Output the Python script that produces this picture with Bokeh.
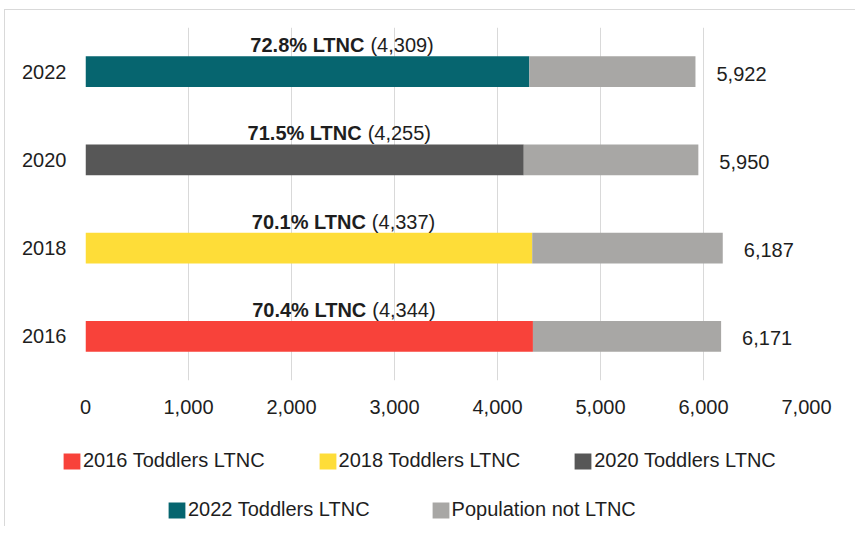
from bokeh.plotting import figure
from bokeh.layouts import column
from bokeh.models import (ColumnDataSource, FactorRange, Range1d, FixedTicker,
                          NumeralTickFormatter, Legend, LegendItem)
from bokeh.transform import dodge
from bokeh.core.properties import value
from bokeh.embed import file_html
from bokeh.resources import INLINE

# ---- data ----
years = ["2016", "2018", "2020", "2022"]
ltnc = [4344, 4337, 4255, 4309]
totals = [6171, 6187, 5950, 5922]
pct_labels = ["70.4% LTNC", "70.1% LTNC", "71.5% LTNC", "72.8% LTNC"]
count_labels = ["(4,344)", "(4,337)", "(4,255)", "(4,309)"]
total_labels = ["6,171", "6,187", "5,950", "5,922"]
series_names = ["2016 Toddlers LTNC", "2018 Toddlers LTNC", "2020 Toddlers LTNC",
                "2022 Toddlers LTNC"]
other_name = "Population not LTNC"
x_ticks = [0, 1000, 2000, 3000, 4000, 5000, 6000, 7000]

colors = ["#F8423A", "#FEDD38", "#575757", "#06656F"]
gray = "#A8A7A5"
FONT = "Liberation Sans"
TXT = "#1E1E1E"

p = figure(width=850, height=420, output_backend="svg", toolbar_location=None,
           y_range=FactorRange(factors=years, range_padding=0),
           x_range=Range1d(0, 7000),
           min_border_left=80, min_border_right=49, min_border_top=17,
           min_border_bottom=50)
p.frame_align = False
p.outline_line_color = None
p.background_fill_color = "white"
p.border_fill_color = "white"

p.xgrid.grid_line_color = "#D9D9D9"
p.xgrid.grid_line_width = 1
p.ygrid.grid_line_color = None

p.xaxis.ticker = FixedTicker(ticks=x_ticks)
p.xaxis.formatter = NumeralTickFormatter(format="0,0")
for ax in (p.xaxis[0], p.yaxis[0]):
    ax.axis_line_color = None
    ax.major_tick_line_color = None
    ax.minor_tick_line_color = None
    ax.major_tick_in = 0
    ax.major_tick_out = 0
    ax.major_label_text_font = FONT
    ax.major_label_text_font_size = "20px"
    ax.major_label_text_color = TXT
p.xaxis.major_label_standoff = 19
p.yaxis.major_label_standoff = 19

BAR_H = 0.35

for i, yr in enumerate(years):
    src = ColumnDataSource(dict(y=[yr], left=[0], right=[ltnc[i]]))
    p.hbar(y="y", left="left", right="right", height=BAR_H, source=src,
           fill_color=colors[i], line_color=None)

gsrc = ColumnDataSource(dict(y=years, left=ltnc, right=totals))
p.hbar(y="y", left="left", right="right", height=BAR_H, source=gsrc,
       fill_color=gray, line_color=None)

lsrc = ColumnDataSource(dict(
    y=years,
    mid=[v / 2 for v in ltnc],
    tot=totals,
    pct=pct_labels,
    cnt=count_labels,
    totl=total_labels,
))
p.text(x="mid", y=dodge("y", BAR_H / 2, range=p.y_range), text="pct", source=lsrc,
       text_font=value(FONT), text_font_size="20px", text_font_style="bold",
       text_color=TXT, text_align="center", text_baseline="alphabetic", y_offset=-11)
p.text(x="mid", y=dodge("y", BAR_H / 2, range=p.y_range), text="cnt", source=lsrc,
       text_font=value(FONT), text_font_size="20px",
       text_color=TXT, text_align="left", text_baseline="alphabetic",
       x_offset=63, y_offset=-11)
p.text(x="tot", y="y", text="totl", source=lsrc,
       text_font=value(FONT), text_font_size="20px",
       text_color=TXT, text_align="left", text_baseline="middle", x_offset=21,
       y_offset=2)

# ---- legend figure ----
q = figure(width=850, height=96, output_backend="svg", toolbar_location=None,
           x_range=Range1d(0, 1), y_range=Range1d(0, 1),
           x_axis_location=None, y_axis_location=None,
           min_border=0, min_border_left=0, min_border_right=0,
           min_border_top=0, min_border_bottom=0)
q.frame_align = False
q.grid.visible = False
q.outline_line_color = None
q.background_fill_color = "white"
q.border_fill_color = "white"

all_names = series_names + [other_name]
all_colors = colors + [gray]
leg_rends = []
for nm, c in zip(all_names, all_colors):
    # zero-size swatch carrier for the legend
    r = q.hbar(y=[0], left=[0], right=[0], height=0, fill_color=c, line_color=None)
    leg_rends.append(r)

def make_legend(items, loc, spacing):
    lg = Legend(items=items, orientation="horizontal", location=loc)
    lg.label_text_font = FONT
    lg.label_text_font_size = "20px"
    lg.label_text_color = TXT
    lg.glyph_width = 21
    lg.glyph_height = 20
    lg.label_standoff = 1
    lg.spacing = spacing
    lg.padding = 0
    lg.margin = 0
    lg.border_line_color = None
    lg.background_fill_alpha = 0
    return lg

items1 = [LegendItem(label=all_names[i], renderers=[leg_rends[i]]) for i in range(3)]
items2 = [LegendItem(label=all_names[i], renderers=[leg_rends[i]]) for i in (3, 4)]
q.add_layout(make_legend(items1, (56, 54), 52), "center")
q.add_layout(make_legend(items2, (161, 5), 60), "center")

layout = column(p, q, spacing=0,
                styles={"margin-left": "4px", "margin-top": "9px",
                        "border-left": "1px solid #d9d9d9",
                        "border-top": "1px solid #d9d9d9"})

open("out.html", "w").write(file_html(layout, INLINE))
